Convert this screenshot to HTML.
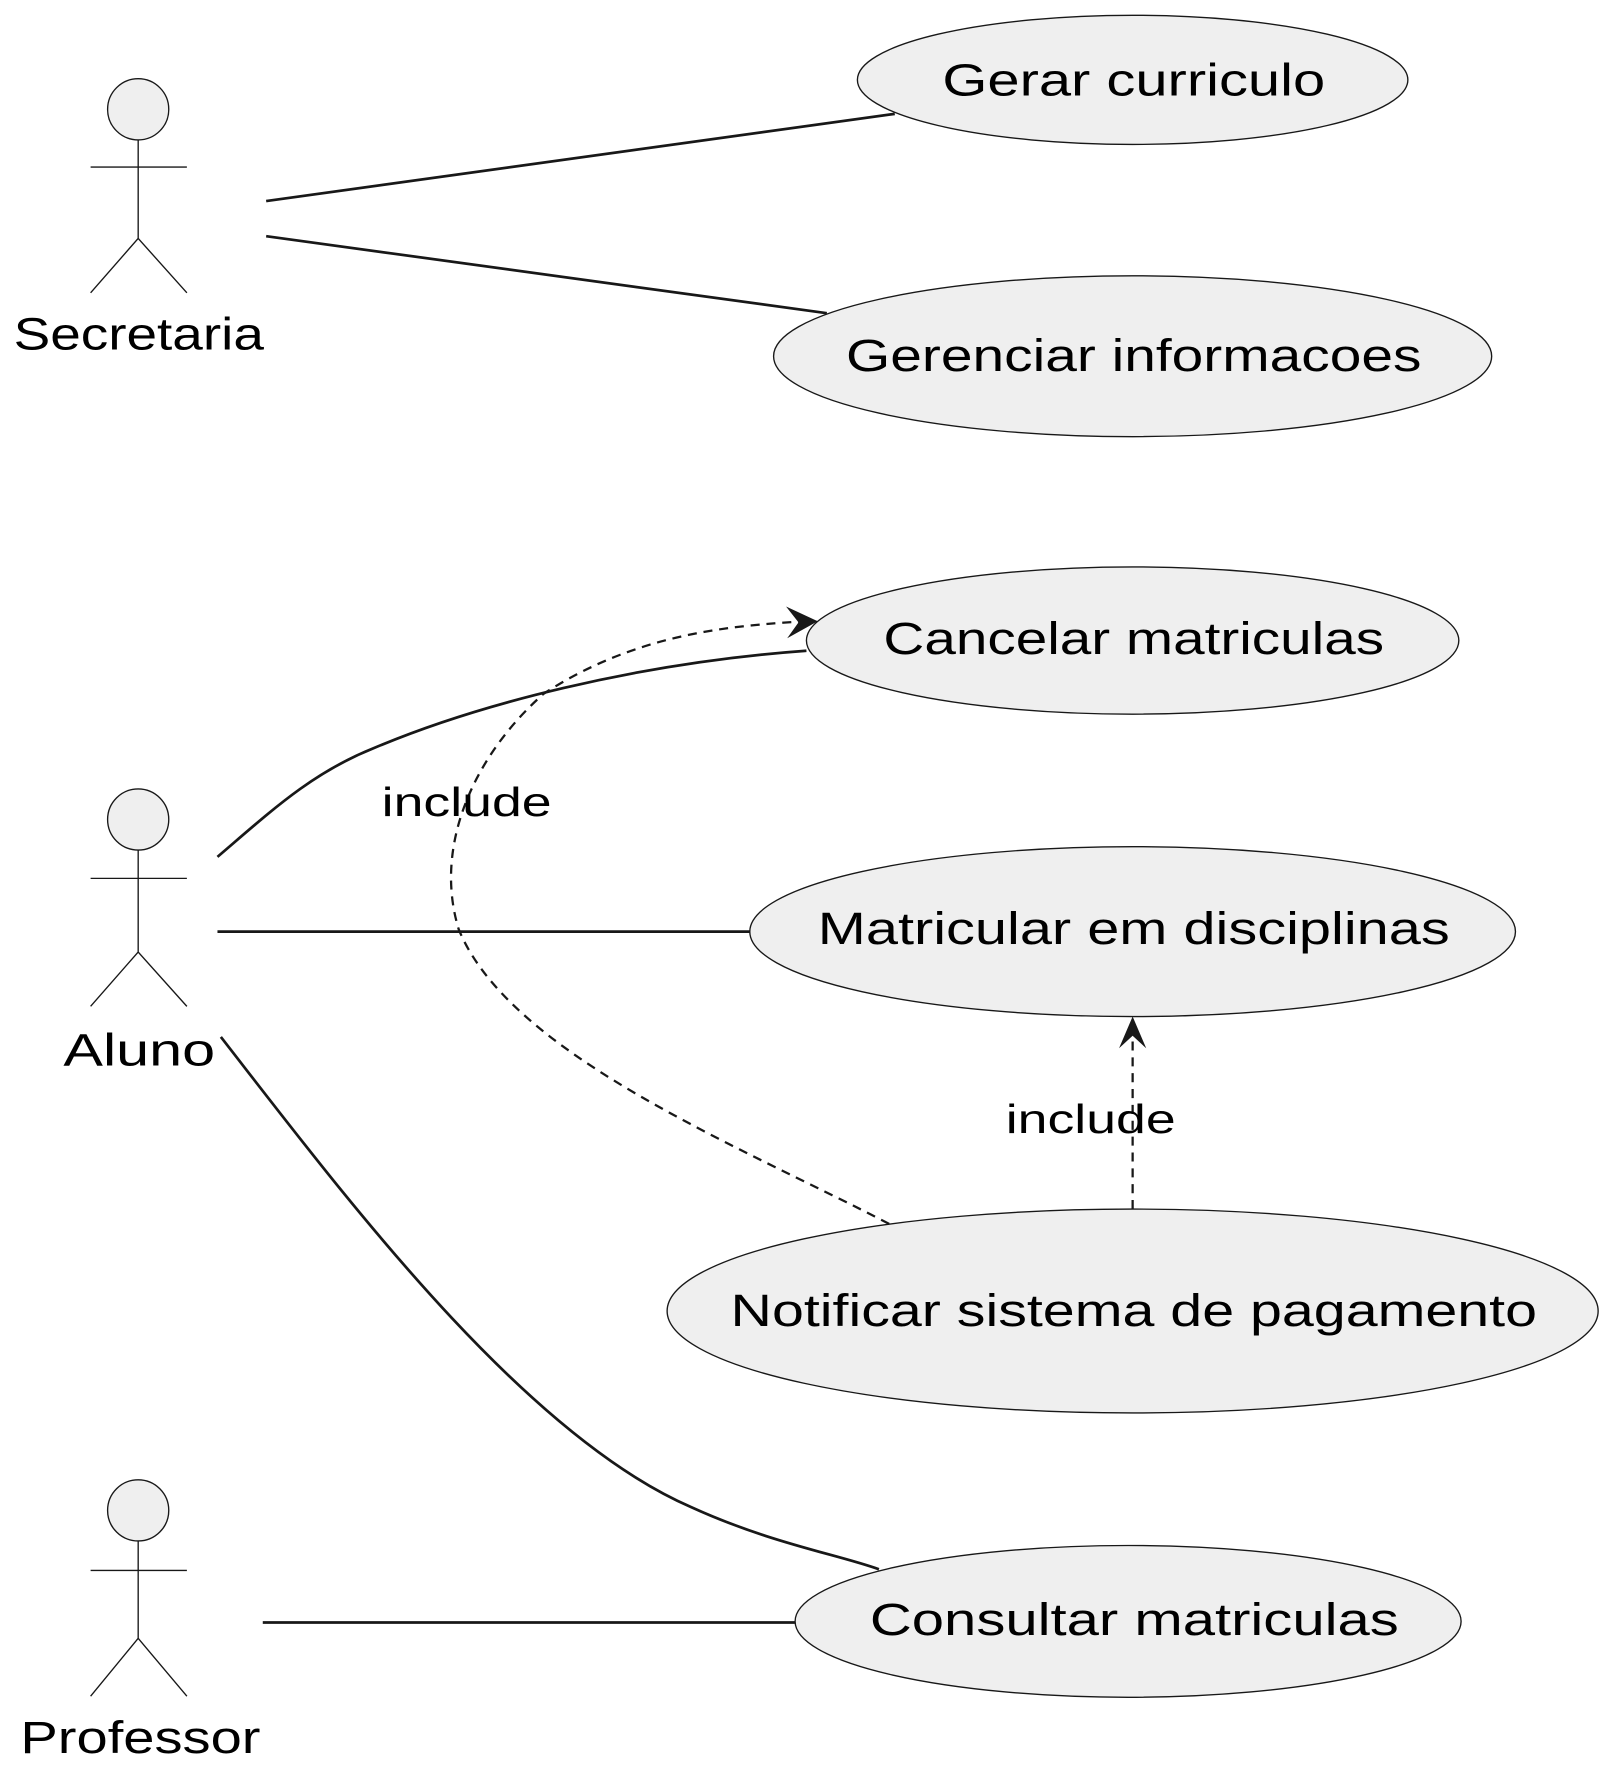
<!DOCTYPE html>
<html><head><meta charset="utf-8"><style>html,body{margin:0;padding:0;background:#fff}svg{display:block}</style></head>
<body>
<svg width="1614" height="1776" viewBox="0 0 1425 1567" xmlns="http://www.w3.org/2000/svg" font-family="Liberation Sans, sans-serif" font-size="40" fill="#000">
<g fill="#efefef" stroke="#181818" stroke-width="1.2">
<ellipse cx="1000" cy="70" rx="243" ry="57"/>
<ellipse cx="1000" cy="314" rx="317" ry="71"/>
<ellipse cx="1000" cy="565" rx="288" ry="65"/>
<ellipse cx="1000" cy="822" rx="338" ry="75"/>
<ellipse cx="1000" cy="1157" rx="411" ry="90"/>
<ellipse cx="996" cy="1431" rx="294" ry="67"/>
</g>
<g stroke="#181818" stroke-width="1.2" fill="none">
<circle cx="122" cy="96" r="27" fill="#efefef"/>
<path d="M122,123V210M80,147H165M80,258L122,210L165,258"/>
<circle cx="122" cy="723" r="27" fill="#efefef"/>
<path d="M122,750V840M80,775H165M80,888L122,840L165,888"/>
<circle cx="122" cy="1333" r="27" fill="#efefef"/>
<path d="M122,1360V1446M80,1386H165M80,1497L122,1446L165,1497"/>
</g>
<g stroke="#181818" stroke-width="2.4" fill="none">
<path d="M235,177L790,100"/>
<path d="M235,208L730,276"/>
<path d="M192,756C240,715 275,682 330,660C420,622 560,585 712,574"/>
<path d="M192,822H662"/>
<path d="M195,915C300,1050 460,1265 610,1330C680,1362 740,1372 776,1385"/>
<path d="M232,1432H702"/>
</g>
<g stroke="#181818" stroke-width="2" fill="none" stroke-dasharray="8,6">
<path d="M785,1080C650,1010 450,930 405,820C382,745 420,665 480,612C560,560 640,552 712,548"/>
<path d="M1000,1067V905"/>
</g>
<g fill="#181818">
<polygon points="722,548 694,535 705,549 695,563"/>
<polygon points="1000,897 988,925 1000,914 1012,925"/>
</g>
<g text-anchor="start">
<text x="832" y="84" textLength="338" lengthAdjust="spacingAndGlyphs">Gerar curriculo</text>
<text x="747" y="327" textLength="508" lengthAdjust="spacingAndGlyphs">Gerenciar informacoes</text>
<text x="780" y="577" textLength="442" lengthAdjust="spacingAndGlyphs">Cancelar matriculas</text>
<text x="722" y="833" textLength="558" lengthAdjust="spacingAndGlyphs">Matricular em disciplinas</text>
<text x="645" y="1170" textLength="712" lengthAdjust="spacingAndGlyphs">Notificar sistema de pagamento</text>
<text x="768" y="1443" textLength="467" lengthAdjust="spacingAndGlyphs">Consultar matriculas</text>
<text x="12" y="308" textLength="221" lengthAdjust="spacingAndGlyphs">Secretaria</text>
<text x="56" y="940" textLength="134" lengthAdjust="spacingAndGlyphs">Aluno</text>
<text x="18" y="1547" textLength="212" lengthAdjust="spacingAndGlyphs">Professor</text>
<text x="337" y="720" font-size="36" textLength="150" lengthAdjust="spacingAndGlyphs">include</text>
<text x="888" y="1000" font-size="36" textLength="150" lengthAdjust="spacingAndGlyphs">include</text>
</g>
</svg>
</body></html>
